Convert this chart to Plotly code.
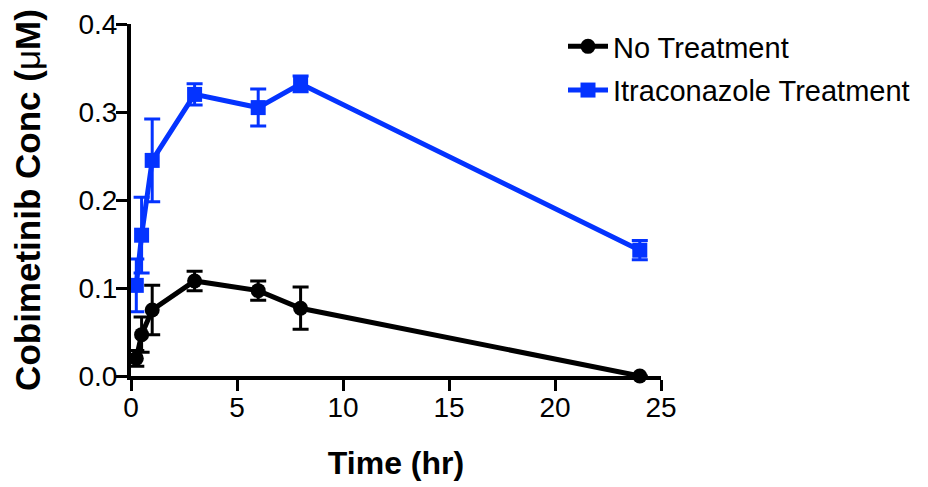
import plotly.graph_objects as go

time_hr = [0.25, 0.5, 1, 3, 6, 8, 24]
no_treat = [0.020, 0.047, 0.075, 0.108, 0.097, 0.077, 0.0]
no_treat_err = [0.009, 0.020, 0.028, 0.011, 0.011, 0.024, 0.0]
itra_treat = [0.103, 0.160, 0.245, 0.320, 0.305, 0.332, 0.143]
itra_err = [0.030, 0.043, 0.047, 0.012, 0.021, 0.009, 0.011]

x_ticks = [0, 5, 10, 15, 20, 25]
y_ticks = [0.0, 0.1, 0.2, 0.3, 0.4]

BLUE = "#0433FF"
FONT = "Liberation Sans, Arial, sans-serif"
W, H = 920, 479

fig = go.Figure()
fig.add_trace(go.Scatter(
    x=time_hr, y=no_treat, name="No Treatment", mode="lines+markers",
    line=dict(color="black", width=5),
    marker=dict(symbol="circle", size=15, color="black"),
    error_y=dict(type="data", array=no_treat_err, color="black", thickness=3, width=8),
    cliponaxis=False, legendgroup="a",
))
fig.add_trace(go.Scatter(
    x=time_hr, y=itra_treat, name="Itraconazole Treatment", mode="lines+markers",
    line=dict(color=BLUE, width=5),
    marker=dict(symbol="square", size=15, color=BLUE),
    error_y=dict(type="data", array=itra_err, color=BLUE, thickness=3, width=8),
    cliponaxis=False, legendgroup="b",
))

fig.update_layout(
    width=W, height=H,
    margin=dict(l=123, r=267, t=16, b=111, autoexpand=False),
    plot_bgcolor="white", paper_bgcolor="white",
    font=dict(family=FONT, size=28, color="black"),
    showlegend=True,
    legend=dict(xref="container", yref="container",
                x=555 / W, y=1 - 13 / H, xanchor="left", yanchor="top",
                font=dict(size=29), tracegroupgap=3, itemwidth=40,
                bgcolor="rgba(0,0,0,0)"),
    xaxis=dict(
        range=[0, 25], tickvals=x_ticks, ticks="outside", ticklen=11, tickwidth=3,
        tickcolor="black", showline=True, linewidth=4, linecolor="black",
        showgrid=False, zeroline=False, tickfont=dict(size=28), automargin=False,
        ticklabelstandoff=-8,
        title=dict(text="<b>Time (hr)</b>", font=dict(size=32), standoff=31),
    ),
    yaxis=dict(
        range=[0, 0.4], tickvals=y_ticks, tickformat=".1f", ticks="outside",
        ticklen=11, tickwidth=3, tickcolor="black", showline=True, linewidth=4,
        linecolor="black", showgrid=False, zeroline=False, tickfont=dict(size=28),
        automargin=False, ticklabelstandoff=-7,
        title=dict(text="<b>Cobimetinib Conc (</b>μ<b>M)</b>", font=dict(size=35), standoff=36),
    ),
)

fig.write_html("out.html")
